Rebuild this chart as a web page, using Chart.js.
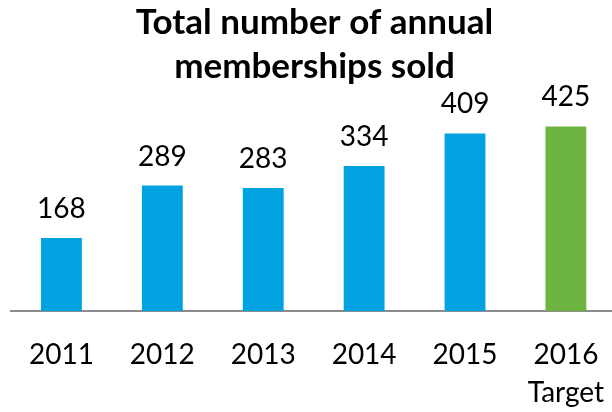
<!DOCTYPE html>
<html>
<head>
<meta charset="utf-8">
<script src="https://cdn.jsdelivr.net/npm/chart.js@4"></script>
<style>
  html, body { margin: 0; padding: 0; overflow: hidden; background: #fff; }
  #wrap { width: 630px; height: 412px; }
</style>
</head>
<body>
<div id="wrap"><canvas id="membershipChart"></canvas></div>
<script>
// chart data
const years = ['2011', '2012', '2013', '2014', '2015', '2016'];
const yearNotes = ['', '', '', '', '', 'Target'];
const memberships = [168, 289, 283, 334, 409, 425];

const titleLines = ['Total number of annual', 'memberships sold'];

const BLUE = '#00a3e0';
const GREEN = '#6db33f';
const FONT = 'Lato, "Open Sans", sans-serif';

// x labels, second line only where there is a note
const xLabels = years.map((y, i) => yearNotes[i] ? [y, yearNotes[i]] : y);

// value labels above each bar
const barValues = {
    id: 'barValues',
    afterDatasetsDraw(chart) {
        const ctx = chart.ctx;
        const meta = chart.getDatasetMeta(0);
        ctx.save();
        ctx.font = '28px ' + FONT;
        ctx.fillStyle = '#000';
        ctx.textAlign = 'center';
        ctx.textBaseline = 'alphabetic';
        meta.data.forEach((bar, i) => {
            ctx.fillText(String(memberships[i]), bar.x, bar.y - 20);
        });
        ctx.restore();
    }
};

function createChart() {
    new Chart(document.getElementById('membershipChart'), {
        type: 'bar',
        data: {
            labels: xLabels,
            datasets: [{
                label: 'Memberships sold',
                data: memberships,
                backgroundColor: ctx => ctx.dataIndex === years.length - 1 ? GREEN : BLUE,
                borderWidth: 0,
                barPercentage: 0.405,
                categoryPercentage: 1,
            }],
        },
        options: {
            responsive: true,
            maintainAspectRatio: false,
            animation: false,
            layout: { padding: { left: 11, right: 12, top: 0, bottom: 0 } },
            scales: {
                y: { display: false, min: 0, max: 500 },
                x: {
                    grid: { display: false, drawTicks: false },
                    border: { display: true, color: '#8c8c8c', width: 2 },
                    ticks: {
                        color: '#000',
                        padding: 25,
                        font: { family: FONT, size: 28, lineHeight: 1.35 },
                    },
                    afterFit(scale) { scale.height = 101; },
                },
            },
            plugins: {
                legend: { display: false },
                tooltip: { enabled: false },
                title: {
                    display: true,
                    text: titleLines,
                    color: '#000',
                    font: { family: FONT, size: 35, weight: 'bold', lineHeight: 1.27 },
                    padding: { top: 0, bottom: 5 },
                },
            },
        },
        plugins: [barValues],
    });
}

createChart();
</script>
</body>
</html>
